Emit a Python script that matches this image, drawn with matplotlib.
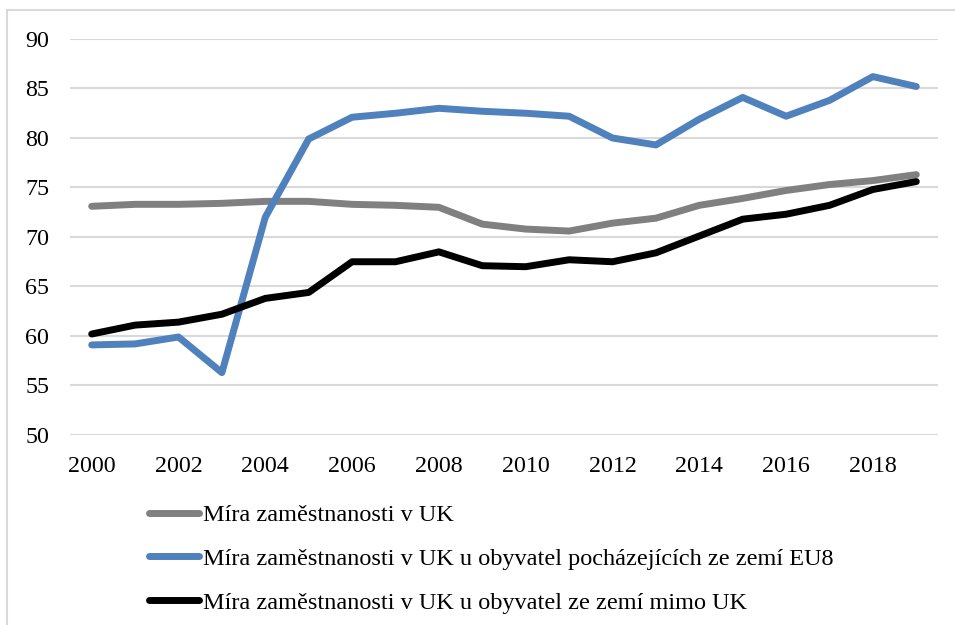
import numpy as np
import matplotlib.pyplot as plt
from matplotlib.patches import Rectangle

plt.rcParams['font.family'] = ['Liberation Serif', 'DejaVu Serif']

years = list(range(2000, 2020))
uk = [73.1, 73.3, 73.3, 73.4, 73.6, 73.6, 73.3, 73.2, 73.0, 71.3,
      70.8, 70.6, 71.4, 71.9, 73.2, 73.9, 74.7, 75.3, 75.7, 76.3]
eu8 = [59.1, 59.2, 59.9, 56.3, 72.0, 79.9, 82.1, 82.5, 83.0, 82.7,
       82.5, 82.2, 80.0, 79.3, 81.9, 84.1, 82.2, 83.8, 86.2, 85.2]
non_uk = [60.2, 61.1, 61.4, 62.2, 63.8, 64.4, 67.5, 67.5, 68.5, 67.1,
          67.0, 67.7, 67.5, 68.4, 70.1, 71.8, 72.3, 73.2, 74.8, 75.6]
labels = ["Míra zaměstnanosti v UK",
          "Míra zaměstnanosti v UK u obyvatel pocházejících ze zemí EU8",
          "Míra zaměstnanosti v UK u obyvatel ze zemí mimo UK"]

fig = plt.figure(figsize=(9.55, 6.25), dpi=100)
ax = fig.add_axes([70/955, 1 - 435/625, (938 - 70)/955, (435 - 39)/625])

ax.plot(years, uk, color='#808080', lw=5, label=labels[0], solid_capstyle='round')
ax.plot(years, eu8, color='#4F81BD', lw=5, label=labels[1], solid_capstyle='round')
ax.plot(years, non_uk, color='#000000', lw=5, label=labels[2], solid_capstyle='round')

ax.set_ylim(50, 90)
ax.set_xlim(1999.5, 2019.5)
ax.set_yticks(np.arange(50, 91, 5))
ax.set_xticks(range(2000, 2019, 2))
ax.grid(axis='y', color='#D9D9D9', lw=1.5)
ax.set_axisbelow(True)
for s in ax.spines.values():
    s.set_visible(False)
ax.tick_params(length=0, labelsize=17.3)
ax.tick_params(axis='x', pad=15)
ax.tick_params(axis='y', pad=15)

fig.legend(loc='upper left', bbox_to_anchor=(149/955, 1 - 504/625), frameon=False,
           fontsize=17.5, handlelength=2.06, handletextpad=0.15, labelspacing=0.9,
           borderaxespad=0, borderpad=0)

fig.patches.append(Rectangle((7/955, -0.1), 1.2, 1 - 10/625 + 0.1, transform=fig.transFigure,
                             fill=False, edgecolor='#D9D9D9', lw=1.5))

fig.savefig('out.png', dpi=100)
